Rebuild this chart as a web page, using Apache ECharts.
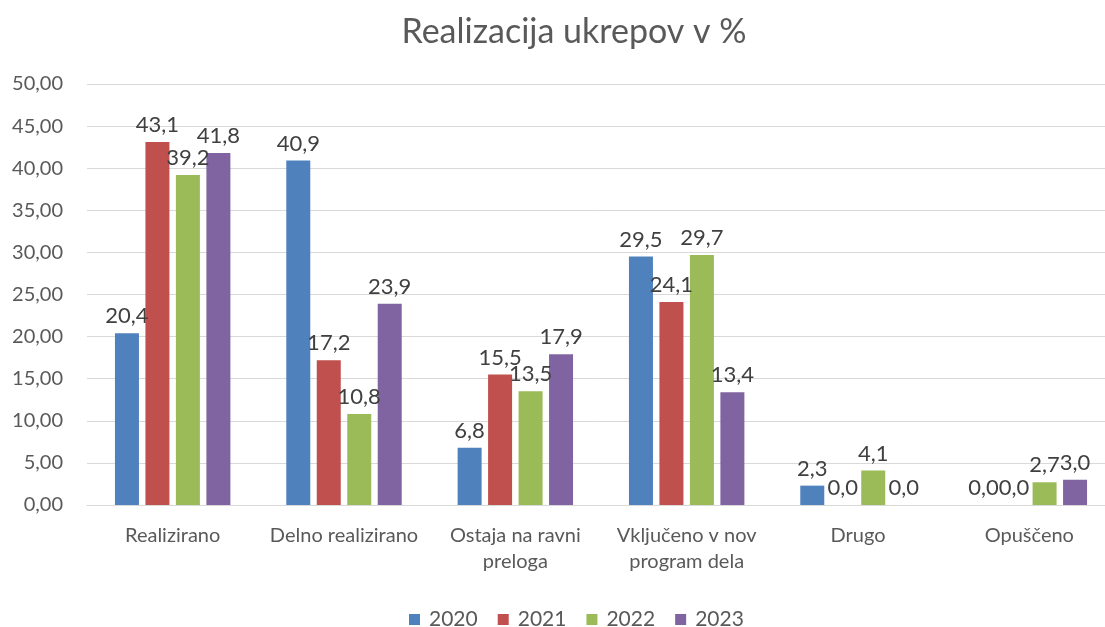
<!DOCTYPE html>
<html>
<head>
<meta charset="utf-8">
<script src="https://cdn.jsdelivr.net/npm/echarts@6/dist/echarts.min.js"></script>
<style>
  html, body { margin: 0; padding: 0; background: #fff; overflow: hidden; }
  #chart { width: 1105px; height: 627px; }
</style>
</head>
<body>
<div id="chart"></div>
<script>
// podatki
const categories = ['Realizirano', 'Delno realizirano', 'Ostaja na ravni\npreloga', 'Vključeno v nov\nprogram dela', 'Drugo', 'Opuščeno'];
const years = ['2020', '2021', '2022', '2023'];
const v2020 = [20.4, 40.9, 6.8, 29.5, 2.3, 0.0];
const v2021 = [43.1, 17.2, 15.5, 24.1, 0.0, 0.0];
const v2022 = [39.2, 10.8, 13.5, 29.7, 4.1, 2.7];
const v2023 = [41.8, 23.9, 17.9, 13.4, 0.0, 3.0];
const colors = ['#4F81BD', '#C0504D', '#9BBB59', '#8064A2'];

const txt = '#595959';
const font = 'Lato, "Open Sans", sans-serif';
const chart = echarts.init(document.getElementById('chart'));

const seriesData = [v2020, v2021, v2022, v2023];
const series = years.map(function (y, i) {
    return {
        name: y,
        type: 'bar',
        data: seriesData[i],
        barWidth: 24,
        barGap: '27%',
        itemStyle: { color: colors[i] },
        label: {
            show: true,
            position: 'top',
            distance: 6,
            color: '#404040',
            fontSize: 22,
            fontFamily: font,
            formatter: function (p) { return p.value.toFixed(1).replace('.', ','); }
        }
    };
});

chart.setOption({
    animation: false,
    title: {
        text: 'Realizacija ukrepov v %',
        left: 569,
        textAlign: 'center',
        top: 10,
        textStyle: { color: txt, fontSize: 34, fontWeight: 'normal', fontFamily: font }
    },
    legend: {
        data: years,
        top: 604,
        left: 404,
        itemWidth: 11,
        itemHeight: 11,
        itemGap: 20,
        icon: 'rect',
        textStyle: { color: txt, fontSize: 21, fontFamily: font, padding: [0, 0, 0, 4] }
    },
    grid: { left: 87, width: 1028, top: 84, bottom: 122, outerBoundsMode: 'none' },
    xAxis: {
        type: 'category',
        data: categories,
        axisLine: { lineStyle: { color: '#D9D9D9', width: 1 } },
        axisTick: { show: false },
        axisLabel: { interval: 0, color: txt, fontSize: 20, fontFamily: font, margin: 18, lineHeight: 26 }
    },
    yAxis: {
        type: 'value',
        min: 0,
        max: 50,
        interval: 5,
        axisLine: { show: false },
        axisTick: { show: false },
        splitLine: { lineStyle: { color: '#D9D9D9', width: 1 } },
        axisLabel: {
            color: txt, fontSize: 20, fontFamily: font, margin: 24,
            formatter: function (v) { return v.toFixed(2).replace('.', ','); }
        }
    },
    series: series
});
</script>
</body>
</html>
